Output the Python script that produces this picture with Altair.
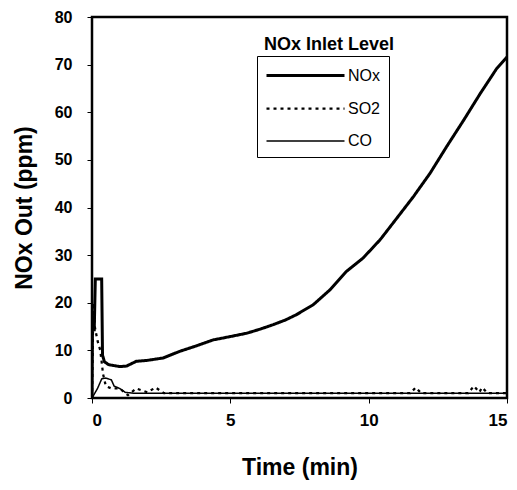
import altair as alt
import pandas as pd

nox_t = [0, 0.02, 0.08, 0.12, 0.2, 0.35, 0.38, 0.45, 0.6, 0.8, 1.0, 1.25, 1.6, 2.0, 2.57, 3.17, 3.8, 4.38, 5.0, 5.59, 6.1, 6.55, 7.0, 7.39, 8.0, 8.6, 9.2, 9.8, 10.41, 11.01, 11.62, 12.22, 12.82, 13.43, 14.03, 14.63, 15.0]
nox_v = [0, 17, 14, 25, 25, 25, 9, 7.6, 7.0, 6.8, 6.6, 6.7, 7.7, 7.9, 8.4, 9.8, 11.0, 12.2, 12.9, 13.6, 14.5, 15.4, 16.4, 17.5, 19.6, 22.7, 26.6, 29.4, 33.2, 37.7, 42.3, 47.2, 52.8, 58.3, 63.9, 69.2, 71.6]

so2_t = [0, 0.05, 0.1, 0.2, 0.3, 0.4, 0.5, 0.7, 1.0, 1.3, 1.6, 2.0, 2.3, 2.6, 4, 6, 8, 10, 11.5, 11.7, 11.9, 13.6, 13.8, 14.0, 14.1, 14.3, 15]
so2_v = [0, 20, 15, 12, 10, 5, 2.5, 2, 2, 0.6, 2, 1.2, 2.2, 1, 1, 1, 1, 1, 1, 2.2, 1, 1, 2.5, 1.2, 2.2, 1, 1]

co_t = [0, 0.2, 0.35, 0.5, 0.7, 0.8, 1.0, 1.2, 1.5, 3, 6, 9, 12, 15]
co_v = [0, 2, 4.0, 4.2, 3.8, 2.5, 2.0, 1.2, 1.0, 1.0, 1.0, 1.0, 1.0, 1.0]

rows = []
for name, ts, vs in [("NOx", nox_t, nox_v), ("SO2", so2_t, so2_v), ("CO", co_t, co_v)]:
    for i, (t, v) in enumerate(zip(ts, vs)):
        rows.append({"gas": name, "t": t, "v": v, "i": i})
df = pd.DataFrame(rows)

FONT = "Liberation Sans"
order = ["NOx", "SO2", "CO"]

legend = alt.Legend(title=None, orient="none", legendX=165, legendY=39,
                    strokeColor="black", padding=8,
                    symbolType="M-1,0H6.8", symbolSize=400,
                    symbolStrokeColor="black", symbolFillColor="transparent",
                    labelOffset=60, labelFontSize=16, labelFont=FONT,
                    labelColor="black", rowPadding=13)

lines = alt.Chart(df).mark_line(color="black", clip=True).encode(
    x=alt.X("t:Q", scale=alt.Scale(domain=[0, 15], nice=False),
            axis=alt.Axis(values=[0, 5, 10, 15], title="Time (min)", grid=False,
                          labelFontSize=17, labelFontWeight="bold", labelPadding=9,
                          titleFontSize=23, titleFontWeight="bold", titlePadding=28,
                          domain=False, tickColor="black", tickSize=5,
                          labelColor="black", titleColor="black")),
    y=alt.Y("v:Q", scale=alt.Scale(domain=[0, 80], nice=False),
            axis=alt.Axis(values=list(range(0, 81, 10)), title="NOx Out (ppm)", grid=False,
                          labelFontSize=16, labelFontWeight="bold", labelPadding=15,
                          titleFontSize=23, titleFontWeight="bold", titlePadding=18,
                          domain=False, tickColor="black", tickSize=5,
                          labelColor="black", titleColor="black")),
    order="i:Q",
    strokeDash=alt.StrokeDash("gas:N", sort=order,
                              scale=alt.Scale(domain=order, range=[[1, 0], [3, 4], [1, 0]]),
                              legend=legend),
    strokeWidth=alt.StrokeWidth("gas:N", sort=order,
                                scale=alt.Scale(domain=order, range=[3, 1.5, 1.5]),
                                legend=legend),
)

title_df = pd.DataFrame({"label": ["NOx Inlet Level"]})
ltitle = alt.Chart(title_df).mark_text(font=FONT, fontSize=18, fontWeight="bold", color="black").encode(
    x=alt.value(237), y=alt.value(28), text="label:N")

chart = alt.layer(lines, ltitle).properties(
    width=415, height=381,
    autosize=alt.AutoSizeParams(type="none"),
    padding={"left": 84, "top": 9, "right": 2, "bottom": 84},
).configure_view(stroke="black", strokeWidth=2.5).configure_axis(labelFont=FONT, titleFont=FONT)

chart.save("out.html", embed_options={"renderer": "svg", "actions": False})
